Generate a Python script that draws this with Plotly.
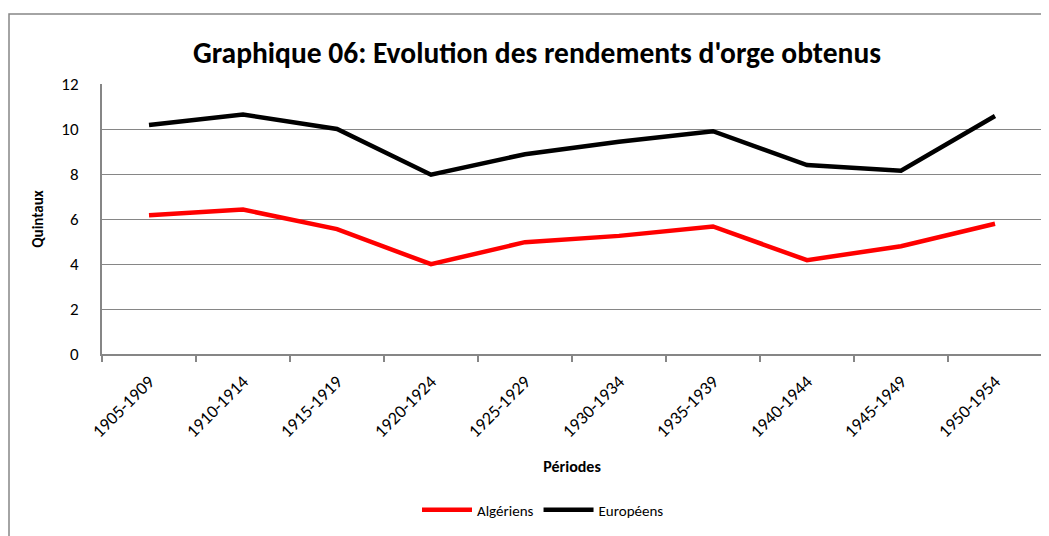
import plotly.graph_objects as go

periods = ["1905-1909", "1910-1914", "1915-1919", "1920-1924", "1925-1929",
           "1930-1934", "1935-1939", "1940-1944", "1945-1949", "1950-1954"]
algeriens = [6.17, 6.42, 5.55, 3.99, 4.97, 5.25, 5.67, 4.17, 4.79, 5.79]
europeens = [10.18, 10.64, 10.0, 7.97, 8.88, 9.43, 9.9, 8.4, 8.15, 10.58]

FONT = "Carlito, 'Liberation Sans Narrow', 'Arial Narrow', sans-serif"
OFF = 8  # page body margin
W, H = 1049 - OFF, 536 - OFF
PL, PR, PT, PB = 102, 1042, 84, 354  # plot area in screen pixels
L, T = PL - OFF, PT - OFF
pw, ph = PR - PL, PB - PT
R = W - L - pw
B = H - T - ph

def px(x):
    return (x - PL) / pw

def py(y):
    return (PB - y) / ph

fig = go.Figure()
fig.add_trace(go.Scatter(x=periods, y=algeriens, mode="lines", name="Algériens",
                         line=dict(color="#FF0000", width=4.5)))
fig.add_trace(go.Scatter(x=periods, y=europeens, mode="lines", name="Européens",
                         line=dict(color="#000000", width=4.5)))

fig.update_layout(
    width=W, height=H,
    margin=dict(l=L, r=R, t=T, b=B),
    paper_bgcolor="white", plot_bgcolor="white",
    font=dict(family=FONT, color="#000000"),
    title=dict(text="<b>Graphique 06: Evolution des rendements d'orge obtenus</b>",
               x=(537 - OFF) / W, xanchor="center", y=1 - (53 - OFF) / H, yanchor="middle",
               font=dict(size=29.5, family=FONT)),
    showlegend=True,
    legend=dict(orientation="h", x=px(543), xanchor="center", y=py(510), yanchor="middle",
                font=dict(size=15, family=FONT), itemwidth=50, bgcolor="rgba(0,0,0,0)"),
    xaxis=dict(
        type="category", tickangle=-45, tickson="boundaries",
        ticks="outside", ticklen=6, tickcolor="#868686", tickwidth=1.5,
        ticklabelstandoff=8,
        showline=True, linecolor="#868686", linewidth=2,
        showgrid=False, tickfont=dict(size=18, family=FONT),
        title=dict(text="<b>Périodes</b>", font=dict(size=16, family=FONT), standoff=20),
        range=[-0.5, 9.5],
    ),
    yaxis=dict(
        range=[0, 12], dtick=2, tick0=0,
        showgrid=True, gridcolor="#868686", gridwidth=1,
        showline=True, linecolor="#868686", linewidth=2,
        ticks="outside", ticklen=0, zeroline=False,
        ticklabelstandoff=18,
        tickfont=dict(size=17, family=FONT),
        title=dict(text="<b>Quintaux</b>", font=dict(size=15, family=FONT), standoff=14),
    ),
)

# outer chart border (Excel chart area frame)
fig.add_shape(type="path", xref="paper", yref="paper",
              path=f"M {px(9)} {py(545)} L {px(9)} {py(14)} L {px(1060)} {py(14)}",
              line=dict(color="#868686", width=1.5), layer="below")

fig.write_html("out.html")
